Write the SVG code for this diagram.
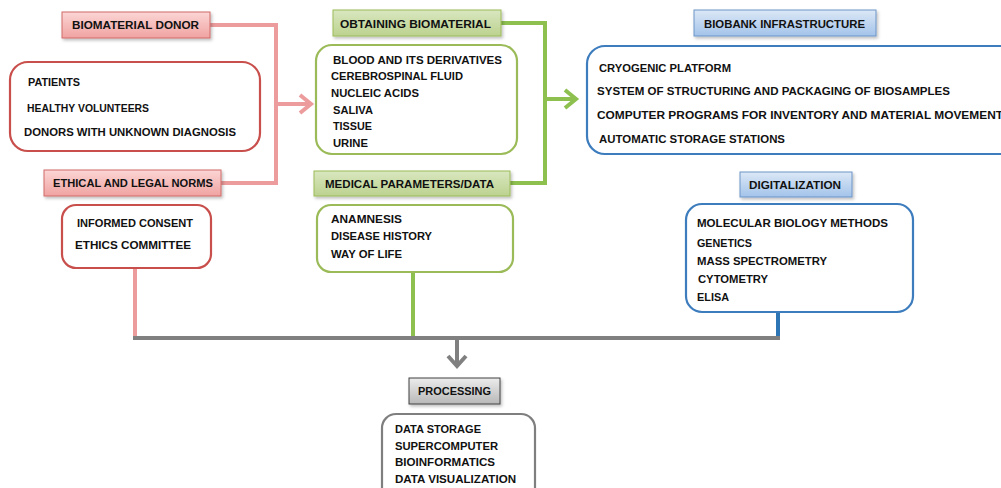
<svg xmlns="http://www.w3.org/2000/svg" width="1001" height="488" viewBox="0 0 1001 488">
<defs>
<linearGradient id="gPink" x1="0" y1="0" x2="0" y2="1"><stop offset="0" stop-color="#fbd6d5"/><stop offset="1" stop-color="#f0a3a1"/></linearGradient>
<linearGradient id="gGreen" x1="0" y1="0" x2="0" y2="1"><stop offset="0" stop-color="#d9e7c0"/><stop offset="1" stop-color="#bcd28f"/></linearGradient>
<linearGradient id="gBlue" x1="0" y1="0" x2="0" y2="1"><stop offset="0" stop-color="#dce8f6"/><stop offset="1" stop-color="#a3c3ea"/></linearGradient>
<linearGradient id="gGray" x1="0" y1="0" x2="0" y2="1"><stop offset="0" stop-color="#ececec"/><stop offset="1" stop-color="#b8b8b8"/></linearGradient>
<filter id="sh" x="-10%" y="-20%" width="130%" height="160%"><feDropShadow dx="1.5" dy="2" stdDeviation="1.5" flood-color="#000" flood-opacity="0.25"/></filter>
</defs>
<style>
text{font-family:"Liberation Sans",Arial,sans-serif;font-weight:bold;font-size:11.5px;fill:#111}
.lbl{filter:url(#sh);stroke-width:1}
.pinkL{fill:url(#gPink);stroke:#d06a68}
.greenL{fill:url(#gGreen);stroke:#9bbb59}
.blueL{fill:url(#gBlue);stroke:#6d95c8}
.grayL{fill:url(#gGray);stroke:#404040}
.box{fill:#fff;stroke-width:2.2}
.pinkB{stroke:#c84f4c}
.greenB{stroke:#9bbb59}
.blueB{stroke:#3d7cbd}
.grayB{stroke:#7f7f7f}
.c{fill:none;stroke-width:4}
.cp{stroke:#ec9c9c}
.cg{stroke:#8ec050}
.cb{stroke:#2e75b6}
.cgr{stroke:#808080}
</style>
<g id="connectors">
<polyline class="c cp" points="210,25 276,25 276,183 221,183"/>
<line class="c cp" x1="276" y1="104" x2="310" y2="104"/>
<polyline class="c cp" points="300,95 311,104 300,113"/>
<polyline class="c cg" points="501,23 545,23 545,183 510,183"/>
<line class="c cg" x1="545" y1="99" x2="575" y2="99"/>
<polyline class="c cg" points="565,90 576,99 565,108"/>
<line class="c cp" x1="135" y1="268" x2="135" y2="338"/>
<line class="c cg" x1="413" y1="272" x2="413" y2="338"/>
<line class="c cb" x1="778" y1="312" x2="778" y2="338"/>
<line class="c cgr" x1="133" y1="338" x2="780" y2="338"/>
<line class="c cgr" x1="457" y1="338" x2="457" y2="366"/>
<polyline class="c cgr" points="448,356 457,366 466,356"/>
</g>
<g id="biomaterial-donor">
<rect class="lbl pinkL" x="62" y="12" width="148" height="26"/>
<text x="72" y="29" textLength="127" lengthAdjust="spacingAndGlyphs">BIOMATERIAL DONOR</text>
</g>
<g id="donors">
<rect class="box pinkB" x="10" y="62" width="250" height="89" rx="18"/>
<text x="28" y="86" textLength="52" lengthAdjust="spacingAndGlyphs">PATIENTS</text>
<text x="27" y="112" textLength="122" lengthAdjust="spacingAndGlyphs">HEALTHY VOLUNTEERS</text>
<text x="24" y="136" textLength="212" lengthAdjust="spacingAndGlyphs">DONORS WITH  UNKNOWN DIAGNOSIS</text>
</g>
<g id="ethical-norms">
<rect class="lbl pinkL" x="44" y="170" width="177" height="26"/>
<text x="53" y="187" textLength="160" lengthAdjust="spacingAndGlyphs">ETHICAL AND LEGAL NORMS</text>
</g>
<g id="ethics">
<rect class="box pinkB" x="62" y="205" width="149" height="63" rx="14"/>
<text x="77" y="227" textLength="116" lengthAdjust="spacingAndGlyphs">INFORMED CONSENT</text>
<text x="75" y="249" textLength="116" lengthAdjust="spacingAndGlyphs">ETHICS COMMITTEE</text>
</g>
<g id="obtaining-biomaterial">
<rect class="lbl greenL" x="333" y="10" width="168" height="26"/>
<text x="340" y="28" textLength="151" lengthAdjust="spacingAndGlyphs">OBTAINING BIOMATERIAL</text>
</g>
<g id="materials">
<rect class="box greenB" x="316" y="45" width="201" height="109" rx="16"/>
<text x="333" y="64" textLength="169" lengthAdjust="spacingAndGlyphs">BLOOD AND ITS DERIVATIVES</text>
<text x="331" y="80" textLength="132" lengthAdjust="spacingAndGlyphs">CEREBROSPINAL FLUID</text>
<text x="331" y="97" textLength="88" lengthAdjust="spacingAndGlyphs">NUCLEIC ACIDS</text>
<text x="333" y="114" textLength="40" lengthAdjust="spacingAndGlyphs">SALIVA</text>
<text x="333" y="130" textLength="39" lengthAdjust="spacingAndGlyphs">TISSUE</text>
<text x="333" y="147" textLength="35" lengthAdjust="spacingAndGlyphs">URINE</text>
</g>
<g id="medical-parameters">
<rect class="lbl greenL" x="314" y="171" width="196" height="25"/>
<text x="325" y="188" textLength="169" lengthAdjust="spacingAndGlyphs">MEDICAL PARAMETERS/DATA</text>
</g>
<g id="medical-data">
<rect class="box greenB" x="317" y="205" width="196" height="67" rx="14"/>
<text x="331" y="223" textLength="71" lengthAdjust="spacingAndGlyphs">ANAMNESIS</text>
<text x="331" y="240" textLength="101" lengthAdjust="spacingAndGlyphs">DISEASE HISTORY</text>
<text x="331" y="258" textLength="71" lengthAdjust="spacingAndGlyphs">WAY OF LIFE</text>
</g>
<g id="biobank-infrastructure">
<rect class="lbl blueL" x="694" y="10" width="182" height="26"/>
<text x="704" y="28" textLength="161" lengthAdjust="spacingAndGlyphs">BIOBANK INFRASTRUCTURE</text>
</g>
<g id="infrastructure">
<rect class="box blueB" x="587" y="46" width="440" height="108" rx="18"/>
<text x="599" y="72" textLength="132" lengthAdjust="spacingAndGlyphs">CRYOGENIC PLATFORM</text>
<text x="597" y="95" textLength="353" lengthAdjust="spacingAndGlyphs">SYSTEM OF STRUCTURING AND PACKAGING OF BIOSAMPLES</text>
<text x="597" y="119" textLength="406" lengthAdjust="spacingAndGlyphs">COMPUTER PROGRAMS FOR INVENTORY AND MATERIAL MOVEMENT</text>
<text x="599" y="143" textLength="186" lengthAdjust="spacingAndGlyphs">AUTOMATIC STORAGE STATIONS</text>
</g>
<g id="digitalization">
<rect class="lbl blueL" x="740" y="172" width="112" height="25"/>
<text x="749" y="189" textLength="92" lengthAdjust="spacingAndGlyphs">DIGITALIZATION</text>
</g>
<g id="methods">
<rect class="box blueB" x="686" y="204" width="227" height="108" rx="16"/>
<text x="697" y="227" textLength="191" lengthAdjust="spacingAndGlyphs">MOLECULAR BIOLOGY METHODS</text>
<text x="697" y="247" textLength="55" lengthAdjust="spacingAndGlyphs">GENETICS</text>
<text x="697" y="265" textLength="130" lengthAdjust="spacingAndGlyphs">MASS SPECTROMETRY</text>
<text x="698" y="283" textLength="70" lengthAdjust="spacingAndGlyphs">CYTOMETRY</text>
<text x="697" y="301" textLength="32" lengthAdjust="spacingAndGlyphs">ELISA</text>
</g>
<g id="processing">
<rect class="lbl grayL" x="409" y="378" width="91" height="26"/>
<text x="418" y="395" textLength="73" lengthAdjust="spacingAndGlyphs">PROCESSING</text>
</g>
<g id="processing-items">
<rect class="box grayB" x="382" y="414" width="153" height="90" rx="14"/>
<text x="395" y="433" textLength="86" lengthAdjust="spacingAndGlyphs">DATA STORAGE</text>
<text x="395" y="450" textLength="103" lengthAdjust="spacingAndGlyphs">SUPERCOMPUTER</text>
<text x="395" y="466" textLength="100" lengthAdjust="spacingAndGlyphs">BIOINFORMATICS</text>
<text x="395" y="483" textLength="121" lengthAdjust="spacingAndGlyphs">DATA VISUALIZATION</text>
</g>
</svg>
